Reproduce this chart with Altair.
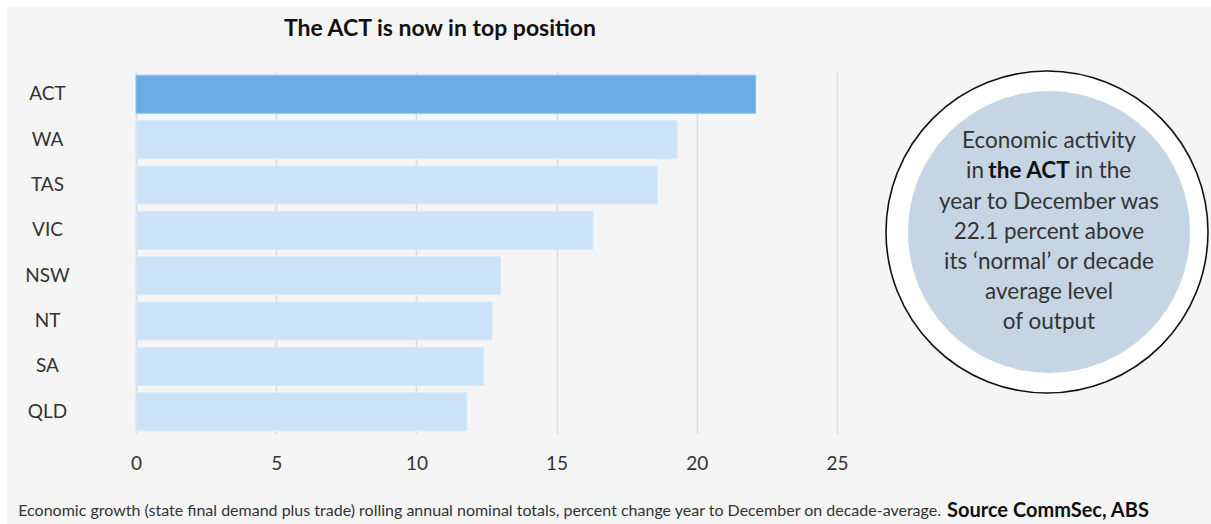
import altair as alt
import pandas as pd

states = ["ACT", "WA", "TAS", "VIC", "NSW", "NT", "SA", "QLD"]
values = [22.1, 19.3, 18.6, 16.3, 13.0, 12.7, 12.4, 11.8]
highlight = ["ACT"]
x_ticks = [0, 5, 10, 15, 20, 25]

title_text = "The ACT is now in top position"
note_lines = ["Economic activity", None, "year to December was", "22.1 percent above",
              "its \u2018normal\u2019 or decade", "average level", "of output"]
note_line2 = ["in", "the ACT", "in the"]
foot_normal = ("Economic growth (state final demand plus trade) rolling annual nominal totals, "
               "percent change year to December on decade-average.")
foot_bold = "Source CommSec, ABS"

FONT = "Lato"
TXT = "#333333"

df = pd.DataFrame({"state": states, "value": values})
df["hl"] = df["state"].isin(highlight)

W, H = 701, 362
OX, OY = 136, 72  # plot origin in the page

bars = alt.Chart(df).mark_bar(strokeWidth=1).encode(
    x=alt.X("value:Q", scale=alt.Scale(domain=[0, 25], nice=False),
            axis=alt.Axis(values=x_ticks, title=None, domain=False, ticks=False, tickSize=0,
                          grid=True, gridColor="#dcdcdc", gridWidth=1.5, labelFlush=False,
                          labelFont=FONT, labelFontSize=19, labelColor=TXT, labelPadding=20)),
    y=alt.Y("state:N", sort=states,
            scale=alt.Scale(paddingInner=0.16, paddingOuter=0.07),
            axis=alt.Axis(title=None, domain=False, ticks=False, tickSize=0, grid=False,
                          labelFont=FONT, labelFontSize=19, labelColor=TXT,
                          labelAlign="center", labelPadding=89)),
    color=alt.Color("hl:N", scale=alt.Scale(domain=[True, False], range=["#6aade6", "#cce2f6"]),
                    legend=None),
    stroke=alt.Stroke("hl:N", scale=alt.Scale(domain=[True, False], range=["#8cc0ec", "#dbeaf8"]),
                      legend=None),
)

def px(x):
    return x - OX

def py(y):
    return y - OY

one = pd.DataFrame({"k": [0]})

# white border strips (page edge)
strip_top = alt.Chart(one).mark_rect(color="white").encode(
    x=alt.value(px(0)), x2=alt.value(px(1211)), y=alt.value(py(0)), y2=alt.value(py(7)))
strip_left = alt.Chart(one).mark_rect(color="white").encode(
    x=alt.value(px(0)), x2=alt.value(px(7)), y=alt.value(py(0)), y2=alt.value(py(524)))

title = alt.Chart(one).mark_text(text=title_text, font=FONT, fontSize=23, fontWeight="bold",
                                 color="#111111", align="center", baseline="middle").encode(
    x=alt.value(px(440)), y=alt.value(py(29)))

outer = alt.Chart(one).mark_point(shape="circle", filled=True, fill="white", stroke="#111111",
                                  strokeWidth=1.6, opacity=1, size=322 * 322).encode(
    x=alt.value(px(1047)), y=alt.value(py(232)))
inner = alt.Chart(one).mark_point(shape="circle", filled=True, fill="#c5d5e4", strokeWidth=0,
                                  opacity=1, size=282 * 282).encode(
    x=alt.value(px(1049)), y=alt.value(py(232)))

NFS = 22.5
line_y = [141, 171, 202, 232, 262, 292, 322]
nl = pd.DataFrame({"t": [t for t in note_lines if t is not None],
                   "y": [py(y) for t, y in zip(note_lines, line_y) if t is not None]})
note = alt.Chart(nl).mark_text(font=FONT, fontSize=NFS, color=TXT, align="center",
                               baseline="middle").encode(
    x=alt.value(px(1049)), y=alt.Y("y:Q", scale=None), text="t:N")

n2a = alt.Chart(one).mark_text(text=note_line2[0], font=FONT, fontSize=NFS, color=TXT,
                               align="right", baseline="middle").encode(
    x=alt.value(px(984)), y=alt.value(py(line_y[1])))
n2b = alt.Chart(one).mark_text(text=note_line2[1], font=FONT, fontSize=NFS, color="#111111",
                               fontWeight="bold", align="center", baseline="middle").encode(
    x=alt.value(px(1029)), y=alt.value(py(line_y[1])))
n2c = alt.Chart(one).mark_text(text=note_line2[2], font=FONT, fontSize=NFS, color=TXT,
                               align="left", baseline="middle").encode(
    x=alt.value(px(1075)), y=alt.value(py(line_y[1])))

foot1 = alt.Chart(one).mark_text(text=foot_normal, font=FONT, fontSize=16, color=TXT,
                                 align="right", baseline="middle").encode(
    x=alt.value(px(941)), y=alt.value(py(511)))
foot2 = alt.Chart(one).mark_text(text=foot_bold, font=FONT, fontSize=20, color="#111111",
                                 fontWeight="bold", align="left", baseline="middle").encode(
    x=alt.value(px(947)), y=alt.value(py(511)))

chart = alt.layer(
    bars, strip_top, strip_left, title, outer, inner, note, n2a, n2b, n2c, foot1, foot2
).properties(
    width=W, height=H,
    background="#f5f5f5",
    padding={"left": OX, "top": OY, "right": 1211 - OX - W, "bottom": 524 - OY - H},
    autosize=alt.AutoSizeParams(type="none"),
).configure_view(stroke=None, fill=None)

chart.save("out.html", embed_options={"renderer": "svg", "actions": False})
